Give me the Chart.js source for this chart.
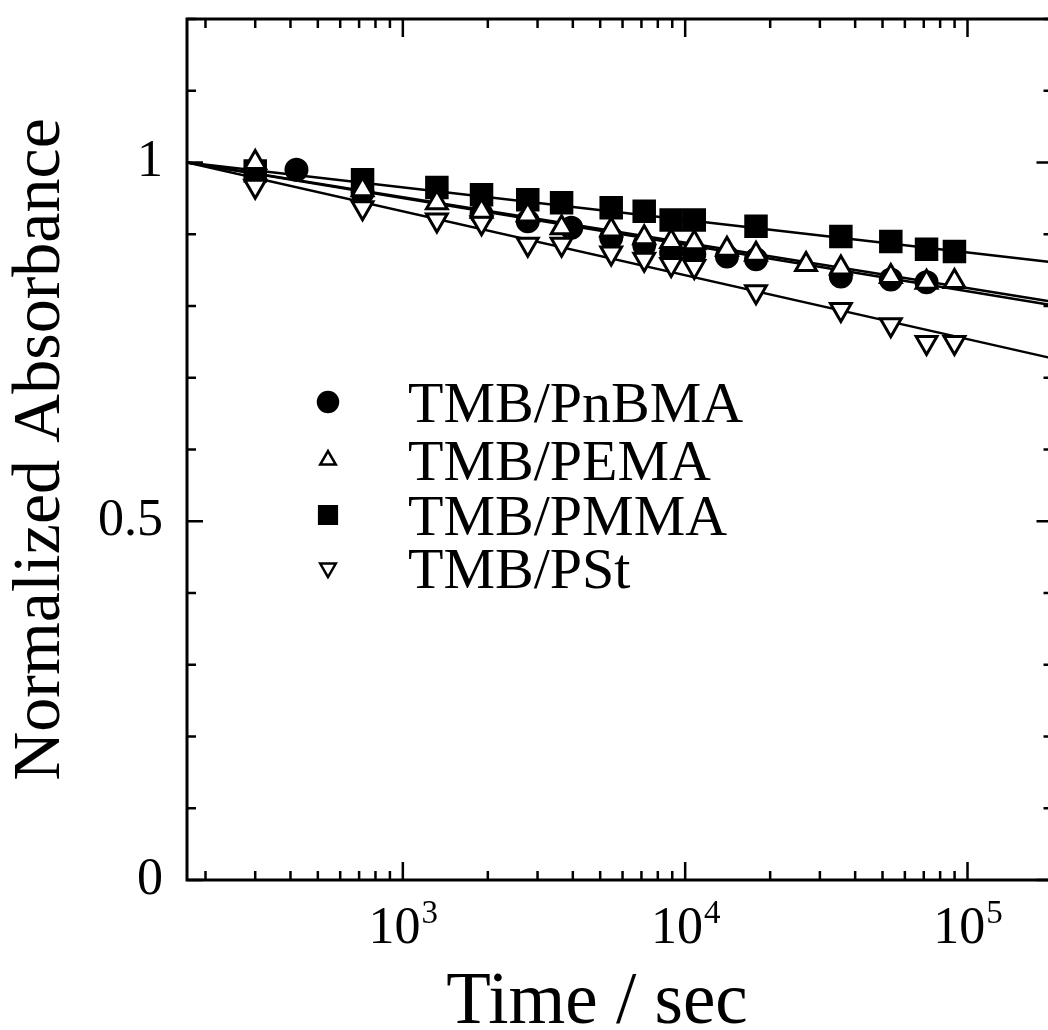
<!DOCTYPE html>
<html lang="en">
<head>
  <meta charset="UTF-8">
  <title>Normalized Absorbance</title>
  <script src="https://cdn.jsdelivr.net/npm/chart.js"></script>
  <style>
    html, body { margin: 0; padding: 0; background: #fff; overflow: hidden; }
    #chart { position: absolute; left: 0; top: 0; }
  </style>
</head>
<body>
  <canvas id="chart" width="1070" height="1030"></canvas>

  <script>
    // data (time in sec, absorbance normalized)
    const timePnBMA = [420, 720, 1900, 2770, 3950, 5470, 7160, 8920, 10770, 14060, 17820, 35600, 53500, 71600];
    const absPnBMA  = [0.990, 0.958, 0.928, 0.918, 0.909, 0.895, 0.885, 0.874, 0.872, 0.869, 0.865, 0.841, 0.837, 0.833];

    const timePEMA = [300, 720, 1320, 1900, 2770, 3650, 5470, 7160, 8920, 10770, 14060, 17820, 26800, 35600, 53500, 71600, 89900];
    const absPEMA  = [1.000, 0.962, 0.944, 0.932, 0.927, 0.909, 0.906, 0.895, 0.890, 0.888, 0.879, 0.872, 0.858, 0.853, 0.841, 0.833, 0.834];

    const timePMMA = [300, 720, 1320, 1900, 2770, 3650, 5470, 7160, 8920, 10770, 17820, 35600, 53500, 71600, 89900];
    const absPMMA  = [0.988, 0.976, 0.965, 0.955, 0.948, 0.944, 0.937, 0.932, 0.920, 0.920, 0.911, 0.897, 0.890, 0.879, 0.876];

    const timePSt = [300, 720, 1320, 1900, 2770, 3650, 5470, 7160, 8920, 10770, 17820, 35600, 53500, 71600, 89900];
    const absPSt  = [0.967, 0.937, 0.920, 0.916, 0.886, 0.886, 0.874, 0.865, 0.858, 0.855, 0.820, 0.795, 0.774, 0.749, 0.749];

    // straight fitted lines (log time), end points
    const fitTime   = [172, 200000];
    const fitPnBMA  = [1.0, 0.801];
    const fitPEMA   = [1.0, 0.806];
    const fitPMMA   = [1.0, 0.861];
    const fitPSt    = [1.0, 0.727];

    const seriesNames = ['TMB/PnBMA', 'TMB/PEMA', 'TMB/PMMA', 'TMB/PSt'];
    const yTickLabels = [0, 0.5, 1];
    const xDecades = [1000, 10000, 100000];
    const xExponents = ['3', '4', '5'];

    const FONT = '"Liberation Serif", "Times New Roman", serif';

    function pts(xs, ys) {
      return xs.map((x, i) => ({ x: x, y: ys[i] }));
    }

    function fitLine(ys, order) {
      return {
        type: 'line',
        data: pts(fitTime, ys),
        borderColor: '#000',
        borderWidth: 2.5,
        pointRadius: 0,
        showLine: true,
        fill: false,
        order: order,
      };
    }

    const markers = [
      { pointStyle: 'circle', radius: 10.5, rotation: 0, fill: '#000', legendRadius: 10 },
      { pointStyle: 'triangle', radius: 12, rotation: 0, fill: '#fff', legendRadius: 9 },
      { pointStyle: 'rect', radius: 14.5, rotation: 0, fill: '#000', legendRadius: 12.5 },
      { pointStyle: 'triangle', radius: 12, rotation: 180, fill: '#fff', legendRadius: 9 },
    ];

    function markerSet(i, xs, ys, order) {
      const m = markers[i];
      return {
        label: seriesNames[i],
        data: pts(xs, ys),
        showLine: false,
        pointStyle: m.pointStyle,
        pointRadius: m.radius,
        pointRotation: m.rotation,
        pointBackgroundColor: m.fill,
        pointBorderColor: '#000',
        pointBorderWidth: 3,
        order: order,
      };
    }

    // frame, inward ticks, x labels with superscripts, x title, legend
    const decorations = {
      id: 'decorations',
      afterDraw(chart) {
        const { ctx, chartArea: a, scales } = chart;
        const x = scales.x, y = scales.y;
        ctx.save();
        ctx.strokeStyle = '#000';
        ctx.lineWidth = 3;
        ctx.strokeRect(a.left, a.top, a.right - a.left, a.bottom - a.top);

        ctx.lineWidth = 2.5;
        ctx.beginPath();
        y.ticks.forEach(t => {
          const py = y.getPixelForValue(t.value);
          const len = t.label ? 16 : 9;
          ctx.moveTo(a.left, py); ctx.lineTo(a.left + len, py);
          ctx.moveTo(a.right, py); ctx.lineTo(a.right - len, py);
        });
        for (let d = 100; d <= 1000000; d *= 10) {
          for (let m = 1; m < 10; m++) {
            const v = d * m;
            if (v <= x.min || v >= x.max) continue;
            const px = x.getPixelForValue(v);
            const len = m === 1 ? 18 : 9;
            ctx.moveTo(px, a.bottom); ctx.lineTo(px, a.bottom - len);
            ctx.moveTo(px, a.top); ctx.lineTo(px, a.top + len);
          }
        }
        ctx.stroke();

        ctx.fillStyle = '#000';
        ctx.textBaseline = 'alphabetic';
        ctx.textAlign = 'left';
        xDecades.forEach((v, i) => {
          const px = x.getPixelForValue(v);
          ctx.font = '52px ' + FONT;
          const wb = ctx.measureText('10').width;
          ctx.font = '33px ' + FONT;
          const we = ctx.measureText(xExponents[i]).width;
          const start = px - (wb + we) / 2;
          ctx.font = '52px ' + FONT;
          ctx.fillText('10', start, a.bottom + 63);
          ctx.font = '33px ' + FONT;
          ctx.fillText(xExponents[i], start + wb + 1, a.bottom + 43);
        });

        ctx.font = '73px ' + FONT;
        ctx.textAlign = 'center';
        ctx.fillText('Time / sec', a.left + 410, a.bottom + 143);

        // legend
        const rows = [402, 460, 515, 568];
        ctx.font = '58px ' + FONT;
        ctx.textAlign = 'left';
        seriesNames.forEach((name, i) => {
          const m = markers[i];
          ctx.fillStyle = m.fill;
          ctx.strokeStyle = '#000';
          ctx.lineWidth = 2.5;
          Chart.helpers.drawPoint(ctx, {
            pointStyle: m.pointStyle, radius: m.legendRadius,
            rotation: m.rotation, borderWidth: 2.5
          }, 328, rows[i]);
          ctx.fillStyle = '#000';
          ctx.fillText(name, 408, rows[i] + 20);
        });
        ctx.restore();
      }
    };

    new Chart(document.getElementById('chart'), {
      type: 'scatter',
      data: {
        datasets: [
          markerSet(1, timePEMA, absPEMA, 0),
          markerSet(3, timePSt, absPSt, 1),
          markerSet(0, timePnBMA, absPnBMA, 2),
          markerSet(2, timePMMA, absPMMA, 3),
          fitLine(fitPnBMA, 5),
          fitLine(fitPEMA, 5),
          fitLine(fitPMMA, 5),
          fitLine(fitPSt, 5),
        ],
      },
      options: {
        responsive: false,
        maintainAspectRatio: false,
        animation: false,
        layout: { padding: { top: 19, right: 6, left: 0, bottom: 0 } },
        plugins: { legend: { display: false }, tooltip: { enabled: false } },
        scales: {
          x: {
            type: 'logarithmic',
            min: 172,
            max: 200000,
            grid: { display: false, drawTicks: false },
            border: { display: false },
            ticks: { display: false },
            afterFit(s) { s.height = 150; s.paddingLeft = 0; s.paddingRight = 0; },
          },
          y: {
            min: 0,
            max: 1.2,
            grid: { display: false, drawTicks: false },
            border: { display: false },
            ticks: {
              stepSize: 0.1,
              padding: 24,
              color: '#000',
              font: { family: FONT, size: 52 },
              callback: (v) => yTickLabels.some(t => Math.abs(t - v) < 1e-6) ? String(Math.round(v * 10) / 10) : '',
            },
            title: {
              display: true,
              text: 'Normalized Absorbance',
              color: '#000',
              font: { family: FONT, size: 68 },
              padding: 0,
            },
            afterFit(s) { s.width = 187; s.paddingTop = 0; s.paddingBottom = 0; },
          },
        },
      },
      plugins: [decorations],
    });
  </script>
</body>
</html>
